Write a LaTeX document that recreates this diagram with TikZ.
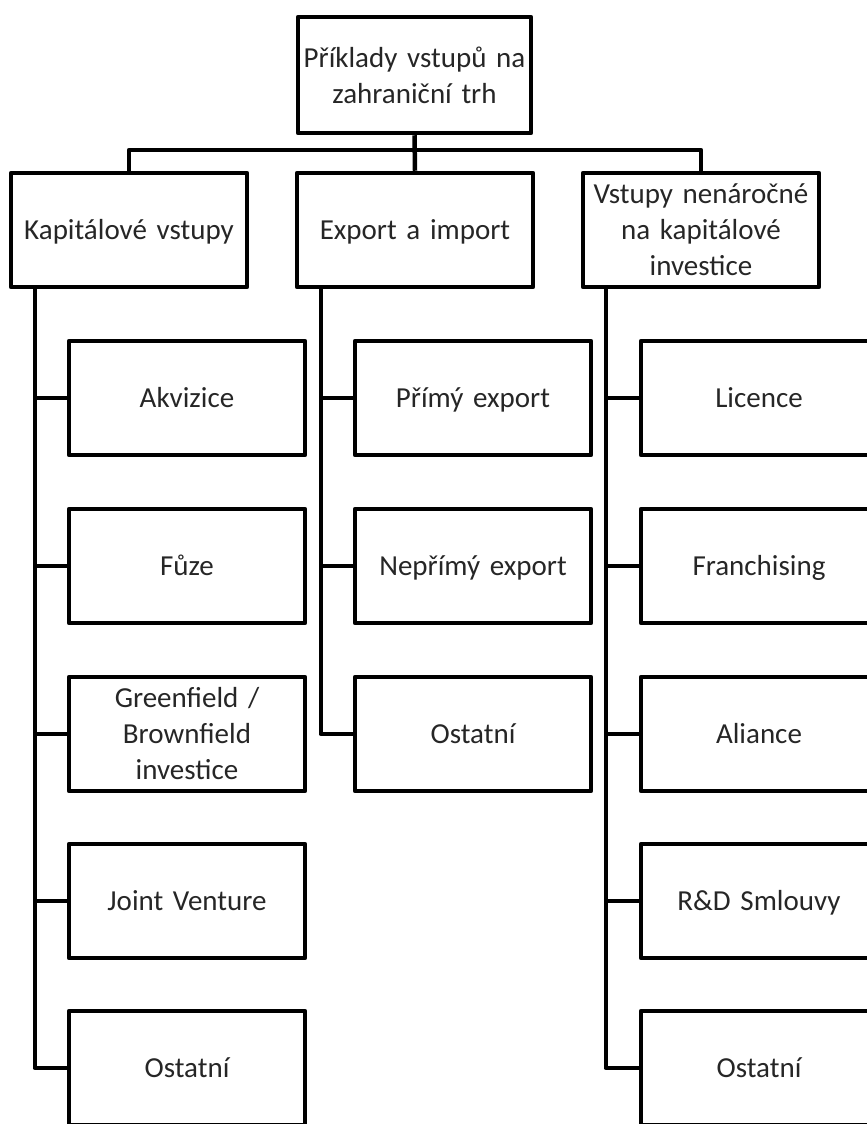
\documentclass[tikz,border=0pt]{standalone}
\usepackage{fontspec}
\setmainfont{Carlito}
\begin{document}
\begin{tikzpicture}[x=1pt,y=-1pt,
  boxst/.style={draw=black, line width=4.5pt, line join=round, minimum width=236pt, minimum height=114pt, text width=230pt, align=center, inner sep=0pt, font=\fontsize{29}{36}\selectfont, text=black!85},
  onebox/.style={boxst, text height=23pt, text depth=4pt},
  conn/.style={draw=black, line width=4.5pt, line join=round}]
\useasboundingbox (0,0) rectangle (867,1124);
\clip (0,0) rectangle (867,1124);
% top
\node[boxst, minimum width=233pt, minimum height=116pt] (top) at (414.5,75) {Příklady vstupů na\\zahraniční trh};
% level 2
\node[onebox] (k) at (129,230) {Kapitálové vstupy};
\node[onebox] (e) at (415,230) {Export a import};
\node[boxst] (v) at (701,230) {Vstupy nenáročné\\na kapitálové\\investice};
\coordinate (bus) at (414.5,150);
\draw[conn] (k.north) |- (bus) -| (v.north);
\draw[conn] (top.south) -- (e.north);
% left column
\node[onebox] (k1) at (187,398) {Akvizice};
\node[onebox] (k2) at (187,566) {Fůze};
\node[boxst] (k3) at (187,734) {Greenfield /\\Brownfield\\investice};
\node[onebox] (k4) at (187,901) {Joint Venture};
\node[onebox] (k5) at (187,1068) {Ostatní};
% middle column
\node[onebox] (e1) at (473,398) {Přímý export};
\node[onebox] (e2) at (473,566) {Nepřímý export};
\node[onebox] (e3) at (473,734) {Ostatní};
% right column
\node[onebox] (v1) at (759,398) {Licence};
\node[onebox] (v2) at (759,566) {Franchising};
\node[onebox] (v3) at (759,734) {Aliance};
\node[onebox] (v4) at (759,901) {R\&D Smlouvy};
\node[onebox] (v5) at (759,1068) {Ostatní};
% trunks
\coordinate (kt) at ([xshift=26pt]k.south west);
\coordinate (et) at ([xshift=26pt]e.south west);
\coordinate (vt) at ([xshift=25pt]v.south west);
\draw[conn] (kt) |- (k5.west);
\draw[conn] (et) |- (e3.west);
\draw[conn] (vt) |- (v5.west);
\foreach \n in {k1,k2,k3,k4} \draw[conn] (\n.west) -- (\n.west -| kt);
\foreach \n in {e1,e2} \draw[conn] (\n.west) -- (\n.west -| et);
\foreach \n in {v1,v2,v3,v4} \draw[conn] (\n.west) -- (\n.west -| vt);
\end{tikzpicture}
\end{document}
